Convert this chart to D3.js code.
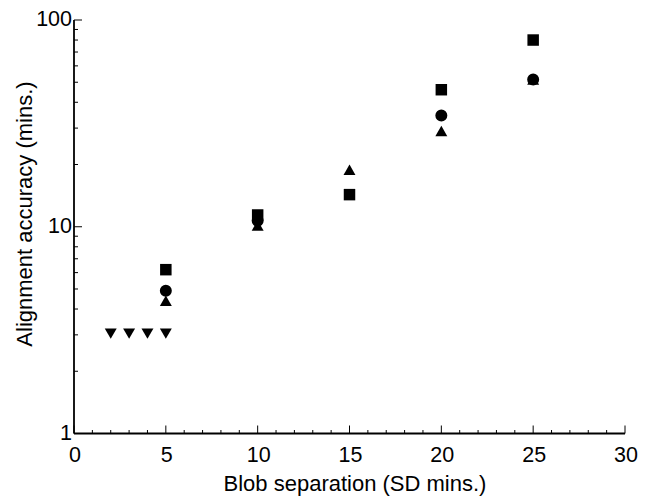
<!DOCTYPE html>
<html>
<head>
  <script src="https://d3js.org/d3.v7.min.js"></script>
  <style>
    body { margin: 0; background: #fff; }
    text { font-family: "Liberation Sans", Arial, sans-serif; fill: #000; }
  </style>
</head>
<body>
  <div id="chart"></div>
  <script>
    // data
    var squareX = [5, 10, 15, 20, 25];
    var squareY = [6.2, 11.4, 14.3, 46, 80];
    var circleX = [5, 10, 20, 25];
    var circleY = [4.9, 10.7, 34.5, 51.5];
    var triUpX = [5, 10, 15, 20, 25];
    var triUpY = [4.3, 9.95, 18.5, 28.5, 50.5];
    var triDownX = [2, 3, 4, 5];
    var triDownY = [3.1, 3.1, 3.1, 3.1];

    var xTicks = [0, 5, 10, 15, 20, 25, 30];
    var yTicks = [1, 10, 100];

    var svg = d3.select("#chart").append("svg")
      .attr("width", 655)
      .attr("height", 498);

    var xScale = d3.scaleLinear().domain([0, 30]).range([74, 625]);
    var yScale = d3.scaleLog().domain([1, 100]).range([433.5, 20]);

    // x axis: minor ticks every 1, major every 5, pointing inwards
    var xMinor = d3.range(0, 31);
    var xg = svg.append("g");
    xg.append("line")
      .attr("x1", xScale(0)).attr("x2", xScale(30))
      .attr("y1", yScale(1)).attr("y2", yScale(1))
      .attr("stroke", "#000").attr("stroke-width", 1.8);
    xg.selectAll(".xminor").data(xMinor).enter().append("line")
      .attr("x1", d => xScale(d)).attr("x2", d => xScale(d))
      .attr("y1", yScale(1)).attr("y2", d => yScale(1) - (d % 5 === 0 ? 8 : 3.5))
      .attr("stroke", "#000").attr("stroke-width", 1);
    xg.selectAll(".xlab").data(xTicks).enter().append("text")
      .attr("x", d => xScale(d) + 1)
      .attr("y", 462)
      .attr("text-anchor", "middle")
      .style("font-size", "21.5px")
      .text(d => d);

    // y axis: log, minor ticks 2..9
    var yMinor = [];
    [1, 10].forEach(function (dec) {
      for (var k = 2; k <= 9; k++) yMinor.push(dec * k);
    });
    var yg = svg.append("g");
    yg.append("line")
      .attr("x1", xScale(0)).attr("x2", xScale(0))
      .attr("y1", yScale(1)).attr("y2", yScale(100))
      .attr("stroke", "#000").attr("stroke-width", 1.8);
    yg.selectAll(".ymaj").data(yTicks).enter().append("line")
      .attr("x1", xScale(0)).attr("x2", xScale(0) + 8)
      .attr("y1", d => yScale(d)).attr("y2", d => yScale(d))
      .attr("stroke", "#000").attr("stroke-width", 1);
    yg.selectAll(".ymin").data(yMinor).enter().append("line")
      .attr("x1", xScale(0)).attr("x2", xScale(0) + 4)
      .attr("y1", d => yScale(d)).attr("y2", d => yScale(d))
      .attr("stroke", "#000").attr("stroke-width", 1);
    yg.selectAll(".ylab").data(yTicks).enter().append("text")
      .attr("x", xScale(0) - 2)
      .attr("y", d => yScale(d) + 6)
      .attr("text-anchor", "end")
      .style("font-size", "21.5px")
      .text(d => d);

    // axis titles
    svg.append("text")
      .attr("x", 355).attr("y", 491)
      .attr("text-anchor", "middle")
      .style("font-size", "22px")
      .text("Blob separation (SD mins.)");

    svg.append("text")
      .attr("transform", "translate(32,214) rotate(-90)")
      .attr("text-anchor", "middle")
      .style("font-size", "22px")
      .text("Alignment accuracy (mins.)");

    // markers
    function drawSeries(xs, ys, type, size, rot) {
      var pts = xs.map((x, i) => ({ x: x, y: ys[i] }));
      svg.append("g").selectAll("path").data(pts).enter().append("path")
        .attr("d", d3.symbol().type(type).size(size))
        .attr("transform", d => "translate(" + xScale(d.x) + "," + yScale(d.y) + ") rotate(" + rot + ")")
        .attr("fill", "#000");
    }

    drawSeries(triUpX, triUpY, d3.symbolTriangle, 62, 0);
    drawSeries(circleX, circleY, d3.symbolCircle, 113, 0);
    drawSeries(squareX, squareY, d3.symbolSquare, 132, 0);
    drawSeries(triDownX, triDownY, d3.symbolTriangle, 62, 180);
  </script>
</body>
</html>
